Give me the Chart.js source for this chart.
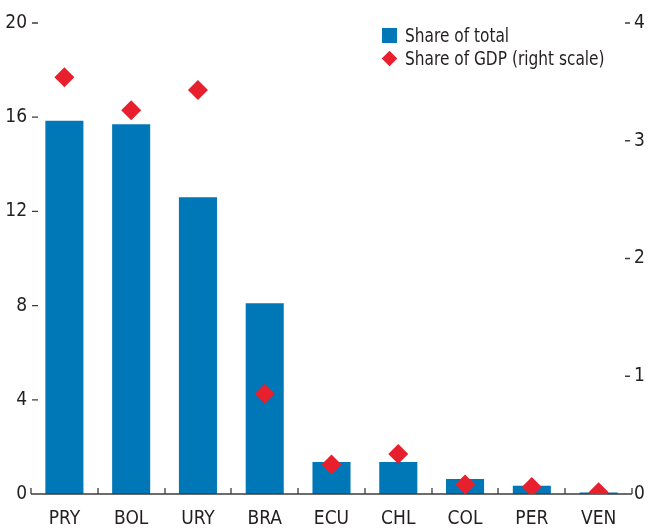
<!DOCTYPE html>
<html>
<head>
<meta charset="utf-8">
<script src="https://cdn.jsdelivr.net/npm/chart.js@4.4.1/dist/chart.umd.min.js"></script>
<style>
  html, body { margin: 0; padding: 0; background: #fff; }
  #wrap { position: relative; width: 655px; height: 528px; }
  #legend {
    position: absolute; left: 382px; top: 24px;
    font-family: "DejaVu Sans Condensed", "Liberation Sans Narrow", sans-serif;
    font-size: 19px; color: #231f20; line-height: 23px;
  }
  .row { position: relative; padding-left: 23px; white-space: nowrap; }
  .row span.t { display: inline-block; transform: scaleX(0.9); transform-origin: left center; }
  .sq { position: absolute; left: 0; top: 4px; width: 15px; height: 15px; background: #0077b6; }
  .dm { position: absolute; left: 2px; top: 6px; width: 11px; height: 11px; background: #e8202e; transform: rotate(45deg); }
</style>
</head>
<body>
<div id="wrap">
  <canvas id="chart" width="655" height="528"></canvas>
  <div id="legend">
    <div class="row"><span class="sq"></span><span class="t">Share of total</span></div>
    <div class="row"><span class="dm"></span><span class="t">Share of GDP (right scale)</span></div>
  </div>
</div>
<script>
// ==================== DATA ====================
const countries = ['PRY', 'BOL', 'URY', 'BRA', 'ECU', 'CHL', 'COL', 'PER', 'VEN'];
const shareOfTotal = [15.85, 15.7, 12.6, 8.1, 1.36, 1.36, 0.64, 0.35, 0.06];
const shareOfGDP = [3.54, 3.26, 3.43, 0.85, 0.25, 0.34, 0.08, 0.06, 0.015];
const leftTicks = [0, 4, 8, 12, 16, 20];
const rightTicks = [0, 1, 2, 3, 4];

const FONT = '"DejaVu Sans Condensed", "Liberation Sans Narrow", sans-serif';
const INK = '#231f20';

// axis line, category ticks and short y dashes (drawn after bars, under the diamonds)
const axisMarks = {
  id: 'axisMarks',
  afterDatasetDraw(chart, args) {
    if (args.meta.type !== 'bar') return;
    const { ctx, chartArea: a, scales: { x, y, y1 } } = chart;
    ctx.save();
    ctx.strokeStyle = '#3c3c3c';
    ctx.lineWidth = 1.3;
    ctx.beginPath();
    ctx.moveTo(a.left, a.bottom);
    ctx.lineTo(a.right, a.bottom);
    for (let i = 0; i <= countries.length; i++) {
      const px = Math.round(x.getPixelForValue(i - 0.5));
      ctx.moveTo(px, a.bottom);
      ctx.lineTo(px, a.bottom - 6);
    }
    leftTicks.forEach(v => {
      if (v === 0) return;
      const py = y.getPixelForValue(v);
      ctx.moveTo(a.left + 1, py);
      ctx.lineTo(a.left + 7, py);
    });
    rightTicks.forEach(v => {
      if (v === 0) return;
      const py = y1.getPixelForValue(v);
      ctx.moveTo(a.right - 7, py);
      ctx.lineTo(a.right - 2, py);
    });
    ctx.stroke();
    ctx.restore();
  }
};

new Chart(document.getElementById('chart'), {
  data: {
    labels: countries,
    datasets: [
      {
        type: 'scatter',
        label: 'Share of GDP (right scale)',
        data: shareOfGDP.map((v, i) => ({ x: countries[i], y: v })),
        yAxisID: 'y1',
        pointStyle: 'rectRot',
        pointRadius: 10,
        pointBorderWidth: 0,
        backgroundColor: '#e8202e',
        borderColor: '#e8202e',
        showLine: false,
        order: 0
      },
      {
        type: 'bar',
        label: 'Share of total',
        data: shareOfTotal,
        yAxisID: 'y',
        backgroundColor: '#0077b6',
        barPercentage: 0.57,
        categoryPercentage: 1,
        order: 1
      }
    ]
  },
  options: {
    responsive: false,
    animation: false,
    layout: { padding: { top: 23, left: 0, right: 0, bottom: 0 } },
    plugins: { legend: { display: false }, tooltip: { enabled: false } },
    scales: {
      x: {
        type: 'category',
        offset: true,
        grid: { display: false, drawTicks: false },
        border: { display: false },
        ticks: { color: INK, font: { family: FONT, size: 19 }, padding: 14, maxRotation: 0 },
        afterFit: s => { s.height = 34; }
      },
      y: {
        position: 'left',
        min: 0, max: 20,
        afterBuildTicks: s => { s.ticks = leftTicks.map(v => ({ value: v })); },
        grid: { display: false, drawTicks: false },
        border: { display: false },
        ticks: { color: INK, font: { family: FONT, size: 19 }, padding: 4 },
        afterFit: s => { s.width = 31; }
      },
      y1: {
        position: 'right',
        min: 0, max: 4,
        afterBuildTicks: s => { s.ticks = rightTicks.map(v => ({ value: v })); },
        grid: { display: false, drawTicks: false },
        border: { display: false },
        ticks: { color: INK, font: { family: FONT, size: 19 }, padding: 2 },
        afterFit: s => { s.width = 23; }
      }
    }
  },
  plugins: [axisMarks]
});
</script>
</body>
</html>
